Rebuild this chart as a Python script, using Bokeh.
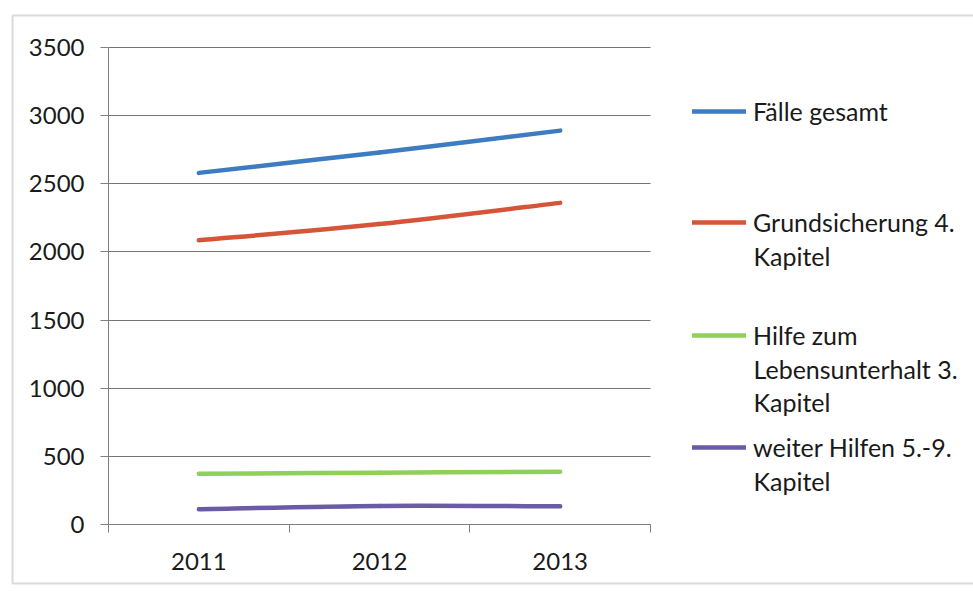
from bokeh.plotting import figure
from bokeh.models import (Range1d, FixedTicker, Legend, LegendItem, Label,
                          BoxAnnotation, ColumnDataSource)
from bokeh.embed import file_html
from bokeh.resources import INLINE

# --- data -----------------------------------------------------------------
years = ["2011", "2012", "2013"]
faelle_gesamt = [2580, 2730, 2890]
grundsicherung = [2085, 2205, 2360]
hilfe_lebensunterhalt = [372, 380, 387]
weitere_hilfen = [112, 136, 133]
y_ticks = [0, 500, 1000, 1500, 2000, 2500, 3000, 3500]

series = [
    (faelle_gesamt, "#3d7cc0", ["Fälle gesamt"]),
    (grundsicherung, "#d65437", ["Grundsicherung 4.", "Kapitel"]),
    (hilfe_lebensunterhalt, "#8fd05a", ["Hilfe zum", "Lebensunterhalt 3.", "Kapitel"]),
    (weitere_hilfen, "#6b5ba6", ["weiter Hilfen 5.-9.", "Kapitel"]),
]

# --- layout constants (pixels) ---------------------------------------------
W, H = 973, 591
BL, BT, BB = 12, 15, 583                 # chart box (runs off the right edge)
PL, PR, PT, PB = 108, 650, 47, 524       # plot area inside the box
FONT = "Lato"
TEXT = "#1a1a1a"
AXIS = "#808080"
GRID = "#737373"

n_cat = len(years)
y_max = y_ticks[-1]
# the frame covers the whole canvas; ranges put the plot area on PL..PR / PT..PB
kx = (PR - PL) / n_cat
ky = (PB - PT) / y_max
x_range = Range1d((0 - PL) / kx, (W - PL) / kx)
y_range = Range1d((PB - H) / ky, (PB - 0) / ky)

p = figure(width=W, height=H, output_backend="svg", toolbar_location=None,
           x_range=x_range, y_range=y_range,
           min_border=0, min_border_left=0, min_border_right=0,
           min_border_top=0, min_border_bottom=0,
           background_fill_color="white", border_fill_color="white",
           outline_line_color=None)

# category positions: centre of each slot
xs = [i + 0.5 for i in range(n_cat)]


def smooth(xv, yv):
    """Cubic Bezier segments through the points (Catmull-Rom style)."""
    n = len(xv)
    px = [xv[0]] + list(xv) + [xv[-1]]
    py = [yv[0]] + list(yv) + [yv[-1]]
    seg = dict(x0=[], y0=[], x1=[], y1=[], cx0=[], cy0=[], cx1=[], cy1=[])
    for i in range(1, n):
        seg["x0"].append(px[i]); seg["y0"].append(py[i])
        seg["x1"].append(px[i + 1]); seg["y1"].append(py[i + 1])
        seg["cx0"].append(px[i] + (px[i + 1] - px[i - 1]) / 6)
        seg["cy0"].append(py[i] + (py[i + 1] - py[i - 1]) / 6)
        seg["cx1"].append(px[i + 1] - (px[i + 2] - px[i]) / 6)
        seg["cy1"].append(py[i + 1] - (py[i + 2] - py[i]) / 6)
    return ColumnDataSource(seg)


# --- chart box (open on the right, where the page cuts it off) ------------
p.add_layout(BoxAnnotation(left=BL, right=W + 20, top=H - BT, bottom=H - BB,
                           left_units="screen", right_units="screen",
                           top_units="screen", bottom_units="screen",
                           fill_alpha=0, line_color="#858585", line_width=2,
                           level="underlay"))

# --- grid -----------------------------------------------------------------
p.xgrid.grid_line_color = None
p.ygrid.ticker = FixedTicker(ticks=y_ticks)
p.ygrid.cross_bounds = (0, n_cat)
p.ygrid.grid_line_color = GRID
p.ygrid.grid_line_width = 1

# --- series ---------------------------------------------------------------
renderers = []
for values, color, _ in series:
    r = p.bezier(x0="x0", y0="y0", x1="x1", y1="y1", cx0="cx0", cy0="cy0",
                 cx1="cx1", cy1="cy1", source=smooth(xs, values),
                 line_color=color, line_width=4.5, line_cap="round")
    renderers.append(r)

# --- axes -----------------------------------------------------------------
yax = p.yaxis[0]
yax.fixed_location = 0
yax.bounds = (0, y_max)
yax.ticker = FixedTicker(ticks=y_ticks)
yax.axis_line_color = AXIS
yax.major_tick_line_color = AXIS
yax.major_tick_out = 8
yax.major_tick_in = 0
yax.minor_tick_line_color = None
yax.major_label_standoff = 16
yax.major_label_text_font = FONT
yax.major_label_text_font_size = "24px"
yax.major_label_text_color = TEXT

xax = p.xaxis[0]
xax.fixed_location = 0
xax.bounds = (0, n_cat)
xax.ticker = FixedTicker(ticks=xs, minor_ticks=list(range(n_cat + 1)))
xax.major_label_overrides = {x: y for x, y in zip(xs, years)}
xax.axis_line_color = AXIS
xax.major_tick_line_color = None
xax.major_tick_out = 0
xax.major_tick_in = 0
xax.minor_tick_line_color = AXIS
xax.minor_tick_out = 8
xax.minor_tick_in = 0
xax.major_label_standoff = 20
xax.major_label_text_font = FONT
xax.major_label_text_font_size = "24px"
xax.major_label_text_color = TEXT

# --- legend: one block per series, evenly spaced ---------------------------
ITEM_H = 34
LINE_GAP = 33
LEG_FONT = "25px"
legend_x = 692
label_x = 753
centers = [111, 222, 335, 447]
for r, (_, color, lines), cy in zip(renderers, series, centers):
    leg = Legend(items=[LegendItem(label=lines[0], renderers=[r])],
                 location=(legend_x, H - cy - ITEM_H / 2),
                 orientation="vertical", padding=0, margin=0, spacing=0,
                 glyph_width=54, glyph_height=ITEM_H, label_height=ITEM_H,
                 label_standoff=7, border_line_color=None,
                 background_fill_alpha=0,
                 label_text_font=FONT, label_text_font_size=LEG_FONT,
                 label_text_color=TEXT)
    p.add_layout(leg)
    for k, extra in enumerate(lines[1:], start=1):
        p.add_layout(Label(x=label_x, y=H - (cy + k * LINE_GAP),
                           x_units="screen", y_units="screen", text=extra,
                           text_baseline="middle", text_align="left",
                           text_font=FONT, text_font_size=LEG_FONT,
                           text_color=TEXT))

open("out.html", "w").write(file_html(p, INLINE))
